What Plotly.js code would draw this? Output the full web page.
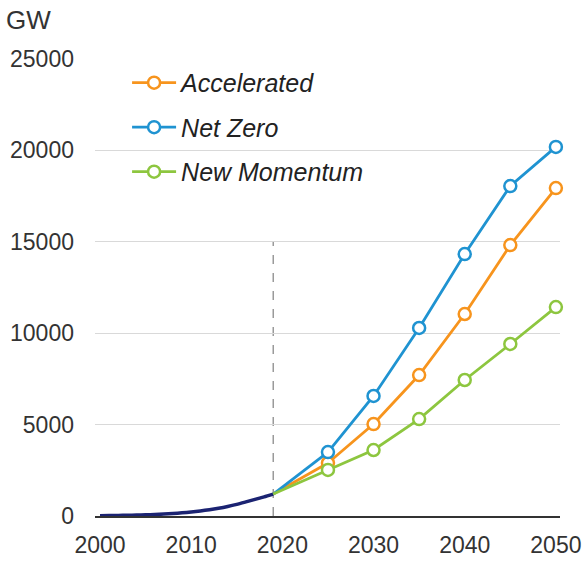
<!DOCTYPE html>
<html>
<head>
<meta charset="utf-8">
<script src="https://cdn.plot.ly/plotly-3.0.1.min.js"></script>
<style>html,body{margin:0;padding:0;background:#fff;}#chart{width:583px;height:562px;}</style>
</head>
<body>
<div id="chart"></div>
<script>
// Historical (GW)
const histYears = [2000,2001,2002,2003,2004,2005,2006,2007,2008,2009,2010,2011,2012,2013,2014,2015,2016,2017,2018,2019];
const histValues = [18,25,33,42,52,65,82,103,136,175,220,275,345,425,520,635,770,910,1050,1200];

// Scenario projections (GW), starting from the 2019 base year
const scenarioYears = [2019,2025,2030,2035,2040,2045,2050];
const accelerated = [1200,2900,5030,7710,11050,14820,17940];
const netZero = [1200,3500,6565,10285,14330,18050,20190];
const newMomentum = [1200,2520,3610,5300,7440,9410,11430];

const seriesNames = ["Accelerated","Net Zero","New Momentum"];
const seriesColors = ["#f7941d","#1f93d1","#8dc63f"];
const seriesData = [accelerated, netZero, newMomentum];

const yTicks = [0,5000,10000,15000,20000,25000];
const xTicks = [2000,2010,2020,2030,2040,2050];
const baseYear = 2019;
const dividerTop = 15000;

const font = "Liberation Sans, Arial, sans-serif";

const traces = [{
  x: histYears, y: histValues, type: "scatter", mode: "lines",
  line: {color: "#1b2372", width: 3.5, shape: "spline", smoothing: 0.6},
  showlegend: false, hoverinfo: "skip"
}];

// connecting segment from base year to first projection (no markers)
seriesData.forEach((vals, i) => {
  traces.push({
    x: scenarioYears.slice(0, 2), y: vals.slice(0, 2), type: "scatter", mode: "lines",
    line: {color: seriesColors[i], width: 2.8},
    showlegend: false, hoverinfo: "skip"
  });
});

seriesData.forEach((vals, i) => {
  traces.push({
    x: scenarioYears.slice(1), y: vals.slice(1), type: "scatter", mode: "lines+markers",
    name: seriesNames[i], legendgroup: "g" + i,
    line: {color: seriesColors[i], width: 2.8},
    marker: {size: 12, color: "#ffffff", line: {color: seriesColors[i], width: 2.5}},
    cliponaxis: false
  });
});

const layout = {
  width: 583, height: 562,
  margin: {l: 95, r: 23, t: 59, b: 46},
  paper_bgcolor: "#ffffff", plot_bgcolor: "#ffffff",
  font: {family: font, size: 23, color: "#333333"},
  showlegend: true,
  legend: {
    x: 0.069, y: 0.998, xanchor: "left", yanchor: "top",
    bgcolor: "rgba(0,0,0,0)",
    font: {family: font, size: 25, color: "#222222", style: "italic"},
    tracegroupgap: 9, itemwidth: 44
  },
  xaxis: {
    range: [1999.45, 2050.45],
    tickvals: xTicks, ticktext: xTicks.map(String),
    showgrid: false, zeroline: false,
    showline: true, linecolor: "#333333", linewidth: 1.5,
    ticks: "", ticklabelstandoff: 8,
    tickfont: {family: font, size: 23, color: "#333333"}
  },
  yaxis: {
    range: [0, 25000],
    tickvals: yTicks, ticktext: yTicks.map(String),
    showgrid: true, gridcolor: "#d9d9d9", gridwidth: 1.2,
    zeroline: false, showline: false, ticks: "",
    ticklabelstandoff: 20,
    tickfont: {family: font, size: 23, color: "#333333"}
  },
  shapes: [{
    type: "line", xref: "x", yref: "y",
    x0: baseYear, x1: baseYear, y0: 0, y1: dividerTop,
    line: {color: "#9a9a9a", width: 1.5, dash: "dash"},
    layer: "below"
  }],
  annotations: [{
    text: "GW", xref: "paper", yref: "paper",
    x: -0.196, y: 1.085, xanchor: "left", yanchor: "middle",
    showarrow: false, font: {family: font, size: 26, color: "#333333"}
  }]
};

Plotly.newPlot("chart", traces, layout, {displayModeBar: false, staticPlot: true});
</script>
</body>
</html>
